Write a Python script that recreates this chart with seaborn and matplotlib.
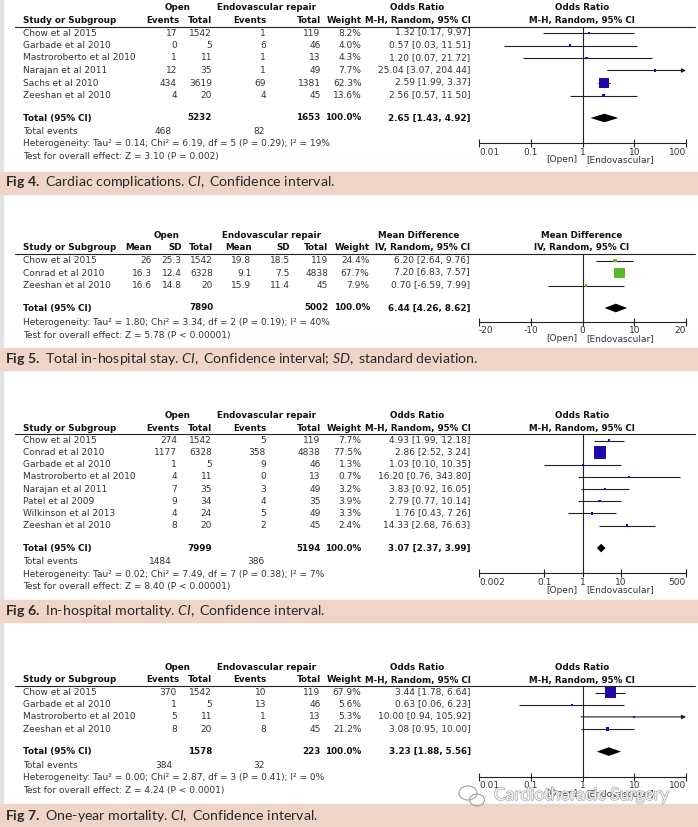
import numpy as np
import matplotlib
matplotlib.use("Agg")
import matplotlib.pyplot as plt
import seaborn as sns
from matplotlib.patches import Rectangle, Ellipse
from matplotlib.lines import Line2D
import matplotlib.patheffects as pe

sns.set_theme(style="white")
plt.rcParams["font.family"] = ["DejaVu Sans"]
plt.rcParams["mathtext.fontset"] = "custom"
plt.rcParams["mathtext.rm"] = "Lato"
plt.rcParams["mathtext.it"] = "Lato:italic"
plt.rcParams["mathtext.bf"] = "Lato:bold"

# ---------------- DATA ----------------
# Fig 4 - Cardiac complications (odds ratio)
f4_study = ["Chow et al 2015", "Garbade et al 2010", "Mastroroberto et al 2010",
            "Narajan et al 2011", "Sachs et al 2010", "Zeeshan et al 2010"]
f4_open_ev = [17, 0, 1, 12, 434, 4]
f4_open_n = [1542, 5, 11, 35, 3619, 20]
f4_endo_ev = [1, 6, 1, 1, 69, 4]
f4_endo_n = [119, 46, 13, 49, 1381, 45]
f4_weight = [8.2, 4.0, 4.3, 7.7, 62.3, 13.6]
f4_est = [1.32, 0.57, 1.20, 25.04, 2.59, 2.56]
f4_lo = [0.17, 0.03, 0.07, 3.07, 1.99, 0.57]
f4_hi = [9.97, 11.51, 21.72, 204.44, 3.37, 11.50]
f4_totals = [5232, 1653]
f4_pooled = [2.65, 1.43, 4.92]
f4_events = [468, 82]
f4_het = "Heterogeneity: Tau² = 0.14; Chi² = 6.19, df = 5 (P = 0.29); I² = 19%"
f4_test = "Test for overall effect: Z = 3.10 (P = 0.002)"
f4_ticks = [0.01, 0.1, 1, 10, 100]
f4_ticklabels = ["0.01", "0.1", "1", "10", "100"]

# Fig 5 - Total in-hospital stay (mean difference)
f5_study = ["Chow et al 2015", "Conrad et al 2010", "Zeeshan et al 2010"]
f5_open_mean = [26, 16.3, 16.6]
f5_open_sd = [25.3, 12.4, 14.8]
f5_open_n = [1542, 6328, 20]
f5_endo_mean = [19.8, 9.1, 15.9]
f5_endo_sd = [18.5, 7.5, 11.4]
f5_endo_n = [119, 4838, 45]
f5_weight = [24.4, 67.7, 7.9]
f5_est = [6.20, 7.20, 0.70]
f5_lo = [2.64, 6.83, -6.59]
f5_hi = [9.76, 7.57, 7.99]
f5_totals = [7890, 5002]
f5_pooled = [6.44, 4.26, 8.62]
f5_het = "Heterogeneity: Tau² = 1.80; Chi² = 3.34, df = 2 (P = 0.19); I² = 40%"
f5_test = "Test for overall effect: Z = 5.78 (P < 0.00001)"
f5_ticks = [-20, -10, 0, 10, 20]
f5_ticklabels = ["-20", "-10", "0", "10", "20"]

# Fig 6 - In-hospital mortality (odds ratio)
f6_study = ["Chow et al 2015", "Conrad et al 2010", "Garbade et al 2010",
            "Mastroroberto et al 2010", "Narajan et al 2011", "Patel et al 2009",
            "Wilkinson et al 2013", "Zeeshan et al 2010"]
f6_open_ev = [274, 1177, 1, 4, 7, 9, 4, 8]
f6_open_n = [1542, 6328, 5, 11, 35, 34, 24, 20]
f6_endo_ev = [5, 358, 9, 0, 3, 4, 5, 2]
f6_endo_n = [119, 4838, 46, 13, 49, 35, 49, 45]
f6_weight = [7.7, 77.5, 1.3, 0.7, 3.2, 3.9, 3.3, 2.4]
f6_est = [4.93, 2.86, 1.03, 16.20, 3.83, 2.79, 1.76, 14.33]
f6_lo = [1.99, 2.52, 0.10, 0.76, 0.92, 0.77, 0.43, 2.68]
f6_hi = [12.18, 3.24, 10.35, 343.80, 16.05, 10.14, 7.26, 76.63]
f6_totals = [7999, 5194]
f6_pooled = [3.07, 2.37, 3.99]
f6_events = [1484, 386]
f6_het = "Heterogeneity: Tau² = 0.02; Chi² = 7.49, df = 7 (P = 0.38); I² = 7%"
f6_test = "Test for overall effect: Z = 8.40 (P < 0.00001)"
f6_ticks = [0.002, 0.1, 1, 10, 500]
f6_ticklabels = ["0.002", "0.1", "1", "10", "500"]

# Fig 7 - One-year mortality (odds ratio)
f7_study = ["Chow et al 2015", "Garbade et al 2010", "Mastroroberto et al 2010",
            "Zeeshan et al 2010"]
f7_open_ev = [370, 1, 5, 8]
f7_open_n = [1542, 5, 11, 20]
f7_endo_ev = [10, 13, 1, 8]
f7_endo_n = [119, 46, 13, 45]
f7_weight = [67.9, 5.6, 5.3, 21.2]
f7_est = [3.44, 0.63, 10.00, 3.08]
f7_lo = [1.78, 0.06, 0.94, 0.95]
f7_hi = [6.64, 6.23, 105.92, 10.00]
f7_totals = [1578, 223]
f7_pooled = [3.23, 1.88, 5.56]
f7_events = [384, 32]
f7_het = "Heterogeneity: Tau² = 0.00; Chi² = 2.87, df = 3 (P = 0.41); I² = 0%"
f7_test = "Test for overall effect: Z = 4.24 (P < 0.0001)"

captions = [
    (r"$\mathbf{Fig\ 4.}$ Cardiac complications. $\mathit{CI,}$ Confidence interval."),
    (r"$\mathbf{Fig\ 5.}$ Total in-hospital stay. $\mathit{CI,}$ Confidence interval; "
     r"$\mathit{SD,}$ standard deviation."),
    (r"$\mathbf{Fig\ 6.}$ In-hospital mortality. $\mathit{CI,}$ Confidence interval."),
    (r"$\mathbf{Fig\ 7.}$ One-year mortality. $\mathit{CI,}$ Confidence interval."),
]
watermark = "Cardiothoracic Surgery"

# ---------------- LAYOUT ----------------
W, H = 698, 827
fig = plt.figure(figsize=(W / 100, H / 100), dpi=100)
fig.patch.set_facecolor("white")


def fx(x):
    return x / W


def fy(y):
    return 1 - y / H


FS = 6.5
HFS = 6.3
TXT = "#333333"
LINEC = "#222222"
BAND = "#EED5C8"


def txt(x, y, s, ha="left", bold=False, size=None, color=None):
    fig.text(fx(x), fy(y), s, ha=ha, va="center",
             fontsize=size or (HFS if bold else FS),
             fontweight="bold" if bold else "normal",
             color=color or ("#111111" if bold else TXT))


def hline(y, x0=15, x1=695):
    fig.add_artist(Line2D([fx(x0), fx(x1)], [fy(y), fy(y)],
                          transform=fig.transFigure, color=LINEC, lw=0.8))


def fmt_ci(e, l, h):
    return f"{e:.2f} [{l:.2f}, {h:.2f}]"


def forest(top, n, step, est, lo, hi, weight, pooled, xlim, ticks, ticklabels,
           log, color, has_events):
    line_y = top + 19
    rows = [top + 25.5 + i * step for i in range(n)]
    total_y = rows[-1] + 22.5
    if has_events:
        events_y = total_y + 13.5
        het_y = events_y + 12.5
    else:
        events_y = None
        het_y = total_y + 14.5
    test_y = het_y + 12.8
    axis_y = het_y - 1

    ax = fig.add_axes([fx(479), fy(axis_y), (686 - 479) / W, (axis_y - line_y) / H])
    ax.set_facecolor("none")
    if log:
        ax.set_xscale("log")
    ax.set_xlim(*xlim)
    ax.set_ylim(axis_y, line_y)
    ref = 1 if log else 0
    ax.axvline(ref, color=LINEC, lw=0.8, zorder=1)

    # confidence intervals
    for y, l, h in zip(rows, lo, hi):
        l_c = max(l, xlim[0])
        if h > xlim[1]:
            ax.annotate("", xy=(xlim[1], y), xytext=(l_c, y),
                        arrowprops=dict(arrowstyle="-|>", lw=0.8, color=LINEC,
                                        mutation_scale=6, shrinkA=0, shrinkB=0))
        else:
            ax.plot([l_c, h], [y, y], color=LINEC, lw=0.8, zorder=2,
                    solid_capstyle="butt")

    side_px = np.maximum(2.3, 0.16 * np.asarray(weight))
    sizes = (side_px * 0.72) ** 2
    sns.scatterplot(x=est, y=rows, s=sizes, marker="s", color=color,
                    linewidth=0, ax=ax, legend=False, zorder=3)

    pe_, pl, ph = pooled
    hh = 4.3
    ax.fill([pl, pe_, ph, pe_], [total_y, total_y - hh, total_y, total_y + hh],
            color="black", lw=0, zorder=3)

    for s in ["top", "left", "right"]:
        ax.spines[s].set_visible(False)
    ax.spines["bottom"].set_color(LINEC)
    ax.spines["bottom"].set_linewidth(0.8)
    ax.set_yticks([])
    ax.minorticks_off()
    ax.set_xticks(ticks)
    ax.set_xticklabels(ticklabels)
    ax.tick_params(axis="x", direction="inout", length=6, width=0.8,
                   color=LINEC, labelsize=FS, labelcolor=TXT, pad=0.5, bottom=True)
    labs = ax.get_xticklabels()
    labs[0].set_ha("left")
    labs[-1].set_ha("right")
    ax.set_xlabel("")
    ax.annotate("[Open]", xy=(ref, axis_y + 17), xycoords="data", xytext=(-4, 0),
                textcoords="offset points", ha="right", va="center",
                fontsize=FS, color=TXT, annotation_clip=False)
    ax.annotate("[Endovascular]", xy=(ref, axis_y + 17), xycoords="data",
                xytext=(3, 0), textcoords="offset points", ha="left",
                va="center", fontsize=FS, color=TXT, annotation_clip=False)
    hline(line_y)
    return rows, total_y, events_y, het_y, test_y


def or_panel(top, step, study, oev, on, eev, en, weight, est, lo, hi, totals,
             pooled, events, het, test, ticks, ticklabels, xlim):
    n = len(study)
    txt(178, top, "Open", ha="center", bold=True)
    txt(266.7, top, "Endovascular repair", ha="center", bold=True)
    txt(417, top, "Odds Ratio", ha="center", bold=True)
    txt(582, top, "Odds Ratio", ha="center", bold=True)
    y2 = top + 13
    txt(22.7, y2, "Study or Subgroup", bold=True)
    txt(179.5, y2, "Events", ha="right", bold=True)
    txt(212, y2, "Total", ha="right", bold=True)
    txt(266, y2, "Events", ha="right", bold=True)
    txt(320.7, y2, "Total", ha="right", bold=True)
    txt(361.7, y2, "Weight", ha="right", bold=True)
    txt(471, y2, "M-H, Random, 95% CI", ha="right", bold=True)
    txt(582, y2, "M-H, Random, 95% CI", ha="center", bold=True)

    rows, total_y, events_y, het_y, test_y = forest(
        top, n, step, est, lo, hi, weight, pooled, xlim, ticks, ticklabels,
        True, "#1E0AA8", True)
    for i, y in enumerate(rows):
        txt(22.7, y, study[i])
        txt(177, y, str(oev[i]), ha="right")
        txt(212, y, str(on[i]), ha="right")
        txt(266, y, str(eev[i]), ha="right")
        txt(320.5, y, str(en[i]), ha="right")
        txt(361.5, y, f"{weight[i]:.1f}%", ha="right")
        txt(470.5, y, fmt_ci(est[i], lo[i], hi[i]), ha="right")
    txt(22.7, total_y, "Total (95% CI)", bold=True)
    txt(212, total_y, str(totals[0]), ha="right", bold=True)
    txt(320.7, total_y, str(totals[1]), ha="right", bold=True)
    txt(361.7, total_y, "100.0%", ha="right", bold=True)
    txt(471, total_y, fmt_ci(*pooled), ha="right", bold=True)
    txt(22.7, events_y, "Total events")
    txt(172, events_y, str(events[0]), ha="right")
    txt(265, events_y, str(events[1]), ha="right")
    txt(22.7, het_y, het)
    txt(22.7, test_y, test)


def md_panel(top, step):
    n = len(f5_study)
    txt(166.7, top, "Open", ha="center", bold=True)
    txt(271.7, top, "Endovascular repair", ha="center", bold=True)
    txt(419, top, "Mean Difference", ha="center", bold=True)
    txt(582, top, "Mean Difference", ha="center", bold=True)
    y2 = top + 12.5
    txt(22.7, y2, "Study or Subgroup", bold=True)
    for x, s in [(152.3, "Mean"), (181.7, "SD"), (213.3, "Total"), (251.7, "Mean"),
                 (290, "SD"), (328.3, "Total"), (370, "Weight"),
                 (470, "IV, Random, 95% CI")]:
        txt(x, y2, s, ha="right", bold=True)
    txt(582, y2, "IV, Random, 95% CI", ha="center", bold=True)

    rows, total_y, _, het_y, test_y = forest(
        top, n, step, f5_est, f5_lo, f5_hi, f5_weight, f5_pooled, (-20, 20),
        f5_ticks, f5_ticklabels, False, "#5DB82B", False)
    for i, y in enumerate(rows):
        txt(22.7, y, f5_study[i])
        txt(152, y, f"{f5_open_mean[i]:g}", ha="right")
        txt(181.5, y, f"{f5_open_sd[i]:g}", ha="right")
        txt(213, y, str(f5_open_n[i]), ha="right")
        txt(251.5, y, f"{f5_endo_mean[i]:g}", ha="right")
        txt(290, y, f"{f5_endo_sd[i]:g}", ha="right")
        txt(328, y, str(f5_endo_n[i]), ha="right")
        txt(369.5, y, f"{f5_weight[i]:.1f}%", ha="right")
        txt(470, y, fmt_ci(f5_est[i], f5_lo[i], f5_hi[i]), ha="right")
    txt(22.7, total_y, "Total (95% CI)", bold=True)
    txt(213.3, total_y, str(f5_totals[0]), ha="right", bold=True)
    txt(328.3, total_y, str(f5_totals[1]), ha="right", bold=True)
    txt(370, total_y, "100.0%", ha="right", bold=True)
    txt(470, total_y, fmt_ci(*f5_pooled), ha="right", bold=True)
    txt(22.7, het_y, f5_het)
    txt(22.7, test_y, f5_test)


# background stripe on the left edge
fig.add_artist(Rectangle((0, 0), fx(3), 1, transform=fig.transFigure,
                         color="#E2E2E2", zorder=-2))

# caption bands
bands = [(172, 194, 182), (348, 370, 359), (600, 622, 611), (804, 827, 815.5)]
for (b0, b1, ty), cap in zip(bands, captions):
    fig.add_artist(Rectangle((0, fy(b1)), 1, (b1 - b0) / H,
                             transform=fig.transFigure, color=BAND, zorder=-1))
    fig.text(fx(5), fy(ty), cap, ha="left", va="center", fontsize=10.2,
             family="Lato", color="#2A2A2A")

or_panel(7.5, 12.5, f4_study, f4_open_ev, f4_open_n, f4_endo_ev, f4_endo_n,
         f4_weight, f4_est, f4_lo, f4_hi, f4_totals, f4_pooled, f4_events,
         f4_het, f4_test, f4_ticks, f4_ticklabels, (0.01, 100))
md_panel(235, 12.5)
or_panel(415, 12.15, f6_study, f6_open_ev, f6_open_n, f6_endo_ev, f6_endo_n,
         f6_weight, f6_est, f6_lo, f6_hi, f6_totals, f6_pooled, f6_events,
         f6_het, f6_test, f6_ticks, f6_ticklabels, (0.002, 500))
or_panel(667, 12.2, f7_study, f7_open_ev, f7_open_n, f7_endo_ev, f7_endo_n,
         f7_weight, f7_est, f7_lo, f7_hi, f7_totals, f7_pooled, f7_events,
         f7_het, f7_test, f4_ticks, f4_ticklabels, (0.01, 100))

# watermark (semi-transparent overlay, as in the reference)
for (cx, cy, w, h) in [(468, 793, 18, 14), (477, 800, 15, 12)]:
    fig.add_artist(Ellipse((fx(cx), fy(cy)), w / W, h / H, transform=fig.transFigure,
                           facecolor="none", edgecolor="#A0A0A0", lw=0.8,
                           zorder=10))
fig.text(fx(494), fy(795), watermark, ha="left", va="center",
         fontsize=12.5, family="Lato", color="white", alpha=0.85, zorder=11,
         path_effects=[pe.withStroke(linewidth=1.0, foreground="#9A9A9A")])

fig.savefig("out.png", dpi=100, facecolor="white")
